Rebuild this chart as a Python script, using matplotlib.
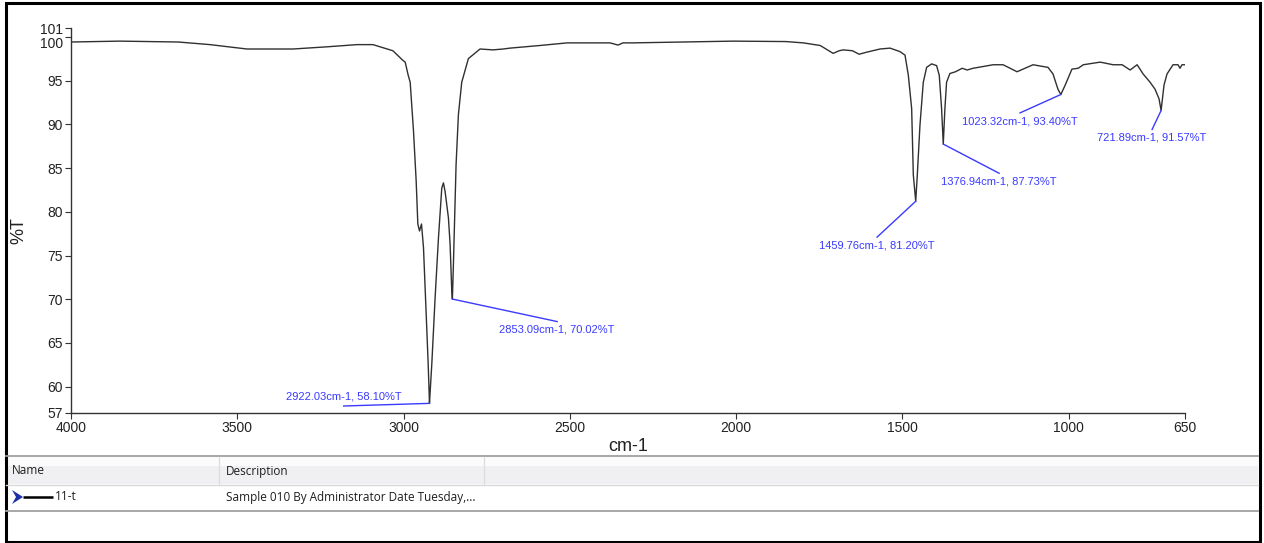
import matplotlib
matplotlib.use("Agg")
import matplotlib.pyplot as plt
from matplotlib.patches import Rectangle, Polygon

W, H = 1264, 543

# IR spectrum (wavenumber cm-1, %T)
wavenumber = [4000, 3853, 3678, 3582, 3471, 3332, 3230, 3140, 3092, 3032, 3002, 2995,
              2986, 2980, 2970, 2962, 2957, 2952, 2946, 2940, 2932, 2926, 2923, 2922.03,
              2915, 2905, 2895, 2885, 2880, 2875, 2865, 2860, 2855, 2853.09, 2850, 2842,
              2835, 2825, 2805, 2770, 2731, 2700, 2680, 2590, 2508, 2379, 2355, 2340,
              2310, 2159, 2009, 1850, 1798, 1747, 1708, 1690, 1678, 1650, 1630, 1606,
              1567, 1537, 1507, 1492, 1482, 1472, 1467, 1459.76, 1455, 1447, 1437, 1427,
              1412, 1397, 1389, 1382, 1376.94, 1372, 1367, 1357, 1340, 1320, 1305, 1287,
              1227, 1197, 1155, 1137, 1107, 1062, 1047, 1032, 1023.32, 1010, 990, 971,
              956, 905, 866, 839, 815, 794, 776, 755, 740, 728, 721.89, 713, 704, 686,
              671, 665, 659, 650]
transmittance = [99.4, 99.5, 99.4, 99.1, 98.6, 98.6, 98.85, 99.1, 99.1, 98.4, 97.3, 97.1,
                 95.6, 94.8, 89.2, 83.5, 78.6, 77.8, 78.6, 75.9, 68.4, 62.7, 59.3, 58.10,
                 62.6, 70.2, 77.0, 82.7, 83.3, 82.3, 79.3, 76.3, 71.0, 70.02, 74.0, 85.4,
                 91.1, 94.8, 97.5, 98.6, 98.5, 98.6, 98.7, 99.0, 99.3, 99.3, 99.05, 99.3,
                 99.3, 99.4, 99.5, 99.45, 99.3, 99.0, 98.1, 98.4, 98.5, 98.4, 98.0, 98.25,
                 98.6, 98.7, 98.3, 97.9, 95.6, 91.8, 84.2, 81.20, 84.2, 89.9, 94.8, 96.5,
                 96.9, 96.7, 95.6, 91.8, 87.73, 91.8, 94.8, 95.8, 96.0, 96.4, 96.2, 96.4,
                 96.8, 96.8, 96.0, 96.3, 96.8, 96.5, 95.75, 94.0, 93.40, 94.5, 96.3, 96.4,
                 96.8, 97.1, 96.8, 96.8, 96.2, 96.8, 95.75, 94.8, 94.0, 92.9, 91.57, 94.5,
                 95.75, 96.8, 96.8, 96.4, 96.8, 96.8]

# peak picks: peak position, end of the leader line
peak_wn = [2922.03, 2853.09, 1459.76, 1376.94, 1023.32, 721.89]
peak_T = [58.10, 70.02, 81.20, 87.73, 93.40, 91.57]
leader_wn = [3180, 2538, 1576, 1209, 1146, 749]
leader_T = [57.8, 67.45, 77.1, 84.4, 91.3, 89.4]
label_above = [True, False, False, False, False, False]

x_ticks = [4000, 3500, 3000, 2500, 2000, 1500, 1000, 650]
y_ticks = [57, 60, 65, 70, 75, 80, 85, 90, 95, 100, 101]

header_cols = ["Name", "Description"]
sample_name = "11-t"
sample_desc = "Sample 010 By Administrator Date Tuesday,..."

NARROW = ["Liberation Sans Narrow", "Liberation Sans", "DejaVu Sans"]
SANS = ["Liberation Sans", "DejaVu Sans"]
UI = ["Open Sans", "DejaVu Sans"]
BLUE = "#3a3aff"
INK = "#1e1e1e"

fig = plt.figure(figsize=(W / 100, H / 100), dpi=100)

# window chrome drawn in pixel coordinates
bg = fig.add_axes([0, 0, 1, 1], zorder=0)
bg.set_xlim(0, W); bg.set_ylim(H, 0); bg.axis("off")
bg.add_patch(Rectangle((6, 457), 1252, 9, color="#fbfbfb", lw=0))
bg.add_patch(Rectangle((6, 466), 1252, 18, color="#f0f0f2", lw=0))
bg.plot([6, 1258], [456, 456], color="#a0a0a0", lw=1.3)
bg.plot([6, 1258], [484.5, 484.5], color="#d8d8d8", lw=1.0)
bg.plot([6, 1258], [511, 511], color="#a0a0a0", lw=1.3)
for xd in (219, 484):
    bg.plot([xd, xd], [457, 484], color="#dcdcdc", lw=0.9)
bg.text(12, 471, header_cols[0], fontsize=8.5, family=UI, va="center", color=INK)
bg.text(226, 471, header_cols[1], fontsize=8.5, family=UI, va="center", color=INK)
bg.add_patch(Polygon([(12, 490), (23, 497), (12, 504), (16, 497)], closed=True,
                     color="#1c2fa8", lw=0))
bg.plot([23, 53], [497, 497], color="black", lw=1.8, solid_capstyle="butt")
bg.text(55, 497, sample_name, fontsize=8.5, family=UI, va="center", color=INK)
bg.text(226, 497, sample_desc, fontsize=8.5, family=UI, va="center", color=INK)
bg.add_patch(Rectangle((5.5, 3), 1254, 538.5, fill=False, ec="black", lw=2.2))

# spectrum axes
ax = fig.add_axes([71 / W, 1 - 413 / H, 1114 / W, 385 / H], zorder=1)
ax.patch.set_alpha(0)
ax.plot(wavenumber, transmittance, color="#303030", lw=1.0)
ax.set_xlim(4000, 650)
ax.set_ylim(57, 101)
for s in ("top", "right"):
    ax.spines[s].set_visible(False)
for s in ("left", "bottom"):
    ax.spines[s].set_color("#333333")
    ax.spines[s].set_linewidth(1.0)
ax.set_xticks(x_ticks, labels=[str(v) for v in x_ticks])
ax.set_yticks(y_ticks, labels=[str(v) for v in y_ticks])
ax.tick_params(direction="out", length=4, width=0.8, color="#333333", labelsize=10,
               labelcolor="#222222", pad=2)
for lab in ax.get_xticklabels() + ax.get_yticklabels():
    lab.set_family(NARROW)
for lab in ax.get_yticklabels():
    if lab.get_text() == "100":
        lab.set_va("top")
ax.set_xlabel("cm-1", fontsize=13, family=SANS, color="#222222", labelpad=2)
ax.set_ylabel("%T", fontsize=13, family=SANS, color="#222222", va="center")
ax.yaxis.set_label_coords(-0.047, 0.475)

for pw, pt, lw_, lt, above in zip(peak_wn, peak_T, leader_wn, leader_T, label_above):
    ax.plot([pw, lw_], [pt, lt], color=BLUE, lw=1.0)
    ax.annotate(f"{pw:.2f}cm-1, {pt:.2f}%T", xy=(lw_, lt), xytext=(0, 6.5 if above else -6),
                textcoords="offset points", ha="center", va="center", fontsize=8,
                family=SANS, color=BLUE)

fig.savefig("out.png", dpi=100)
